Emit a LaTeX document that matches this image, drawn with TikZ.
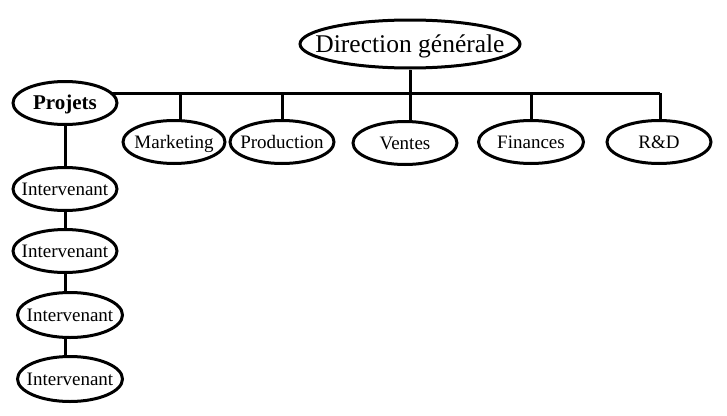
\documentclass[tikz,border=0pt]{standalone}
\usepackage{fontspec}
\setmainfont{Liberation Serif}
\usetikzlibrary{shapes.geometric}
\pgfdeclarelayer{background}
\pgfsetlayers{background,main}
\newcommand\ovtext[1]{\makebox[0pt]{\raisebox{-.33em}[0pt][0pt]{#1}}}
\begin{document}
\begin{tikzpicture}[x=1pt,y=-1pt,
  oval/.style={ellipse,draw,line width=3pt,fill=white,inner sep=0pt,font=\fontsize{19}{21}\selectfont},
  link/.style={line width=3pt}]
\useasboundingbox (0,0) rectangle (727,415);
\node[oval,minimum width=220,minimum height=48,font=\fontsize{25.5}{28}\selectfont] (dg) at (410,44) {\ovtext{Direction générale}};
\node[oval,minimum width=104,minimum height=43,font=\fontsize{21}{23}\selectfont\bfseries] (pj) at (65,103) {\ovtext{Projets}};
\node[oval,minimum width=102,minimum height=43] (mk) at (174,142) {\ovtext{Marketing}};
\node[oval,minimum width=104,minimum height=43] (pr) at (282,142) {\ovtext{Production}};
\node[oval,minimum width=104,minimum height=43] (ve) at (405,143) {\ovtext{Ventes}};
\node[oval,minimum width=105,minimum height=43] (fi) at (531,142) {\ovtext{Finances}};
\node[oval,minimum width=104,minimum height=43] (rd) at (659,142) {\ovtext{R\&D}};
\node[oval,minimum width=104,minimum height=43] (i1) at (65,189) {\ovtext{Intervenant}};
\node[oval,minimum width=104,minimum height=43] (i2) at (65,251) {\ovtext{Intervenant}};
\node[oval,minimum width=105,minimum height=45] (i3) at (70,315) {\ovtext{Intervenant}};
\node[oval,minimum width=105,minimum height=45] (i4) at (70,379) {\ovtext{Intervenant}};
\coordinate (hm) at (180,93);
\coordinate (hp) at (282,93);
\coordinate (hv) at (410,93);
\coordinate (hf) at (531,93);
\coordinate (hr) at (660,93);
\coordinate (vx) at (65,0);
\begin{pgfonlayer}{background}
\draw[link] (dg) -- (hv);
\draw[link] (pj.center |- hr) -- (hr);
\draw[link] (hm) -- (hm |- mk.center);
\draw[link] (hp) -- (hp |- pr.center);
\draw[link] (hv) -- (hv |- ve.center);
\draw[link] (hf) -- (hf |- fi.center);
\draw[link] (hr) -- (hr |- rd.center);
\draw[link] (pj) -- (i1);
\draw[link] (i1) -- (i2);
\draw[link] (i2) -- (vx |- i3.center);
\draw[link] (vx |- i3.center) -- (vx |- i4.center);
\end{pgfonlayer}
\end{tikzpicture}
\end{document}
